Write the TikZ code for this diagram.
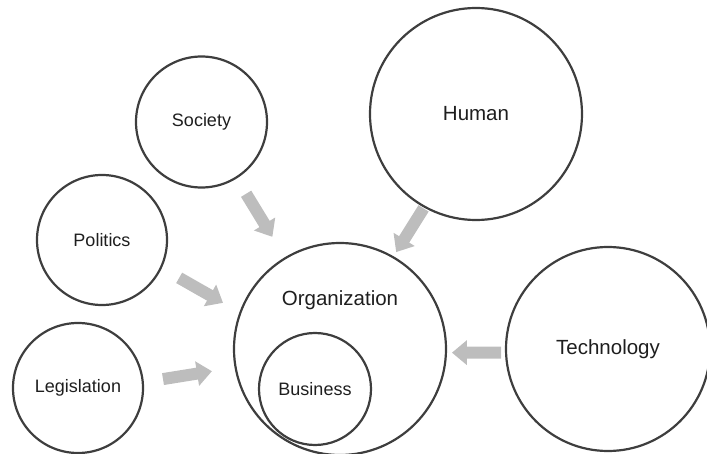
\documentclass[tikz,border=0pt]{standalone}
\usepackage{fontspec}
\setmainfont{Liberation Sans}
\usetikzlibrary{arrows.meta}
\definecolor{ringgray}{RGB}{62, 62, 62}
\definecolor{flowgray}{RGB}{189, 189, 189}
\definecolor{labelgray}{RGB}{30, 30, 30}

\begin{document}
\begin{tikzpicture}[x=1pt, y=-1pt,
    ring/.style={draw=ringgray, line width=2.2pt, circle, inner sep=0pt, outer sep=0pt,
                 text=labelgray, font=\fontsize{18}{20}\selectfont},
    bigring/.style={ring, font=\fontsize{20.5}{23}\selectfont},
    flow/.style={draw=flowgray, line width=12pt,
                 -{Triangle[width=24pt, length=15pt, fill=flowgray]}}]
    \useasboundingbox (0,0) rectangle (707,454);
    \clip (0,0) rectangle (707,454);
    % the outer factors
    \node[ring, minimum size=131pt] (society) at (201.5,122) {Society};
    \node[bigring, minimum size=212pt] (human) at (476,114) {Human};
    \node[ring, minimum size=130pt] (politics) at (102,240) {Politics};
    \node[ring, minimum size=130pt] (legislation) at (78,388) {Legislation};
    \node[bigring, minimum size=204pt] (technology) at (608,349) {Technology};
    % the organization with the business inside
    \node[bigring, minimum size=212pt,
          label={[text=labelgray, font=\fontsize{20.5}{23}\selectfont, yshift=49pt]center:Organization}]
          (org) at (340,349) {};
    \node[ring, minimum size=112pt] (business) at (315,389) {Business};
    % influences
    \draw[flow, shorten <=19pt, shorten >=25pt] (society.302) -- (org.121);
    \draw[flow, shorten <=2pt, shorten >=6pt] (human.241) -- (org.60);
    \draw[flow, shorten <=21pt, shorten >=20pt] (politics.335) -- (org.160);
    \draw[flow, shorten <=20.5pt, shorten >=24pt] (legislation.5) -- (org.190);
    \draw[flow, shorten <=5pt, shorten >=6pt] (technology.182) -- (org.358);
\end{tikzpicture}
\end{document}
